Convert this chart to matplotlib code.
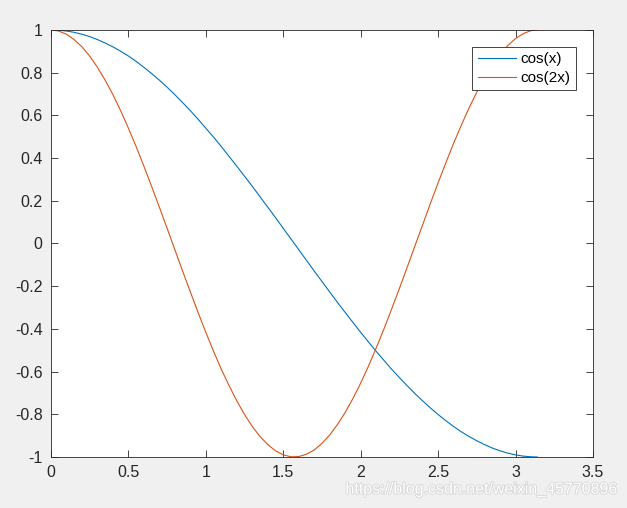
import matplotlib
matplotlib.use("Agg")
import matplotlib.pyplot as plt
import matplotlib.patheffects as pe

x = [0.00, 0.05, 0.10, 0.15, 0.20, 0.25, 0.30, 0.35, 0.40, 0.45,
     0.50, 0.55, 0.60, 0.65, 0.70, 0.75, 0.80, 0.85, 0.90, 0.95,
     1.00, 1.05, 1.10, 1.15, 1.20, 1.25, 1.30, 1.35, 1.40, 1.45,
     1.50, 1.55, 1.60, 1.65, 1.70, 1.75, 1.80, 1.85, 1.90, 1.95,
     2.00, 2.05, 2.10, 2.15, 2.20, 2.25, 2.30, 2.35, 2.40, 2.45,
     2.50, 2.55, 2.60, 2.65, 2.70, 2.75, 2.80, 2.85, 2.90, 2.95,
     3.00, 3.05, 3.10, 3.1416]

cos_x = [1.000, 0.999, 0.995, 0.989, 0.980, 0.969, 0.955, 0.939, 0.921, 0.900,
         0.878, 0.853, 0.825, 0.796, 0.765, 0.732, 0.697, 0.660, 0.622, 0.582,
         0.540, 0.498, 0.454, 0.408, 0.362, 0.315, 0.268, 0.219, 0.170, 0.121,
         0.071, 0.021, -0.029, -0.079, -0.129, -0.178, -0.227, -0.276, -0.323, -0.370,
         -0.416, -0.461, -0.505, -0.547, -0.589, -0.628, -0.666, -0.703, -0.737, -0.770,
         -0.801, -0.830, -0.857, -0.882, -0.904, -0.924, -0.942, -0.958, -0.971, -0.982,
         -0.990, -0.996, -0.999, -1.000]

cos_2x = [1.000, 0.995, 0.980, 0.955, 0.921, 0.878, 0.825, 0.765, 0.697, 0.622,
          0.540, 0.454, 0.362, 0.267, 0.170, 0.071, -0.029, -0.129, -0.227, -0.323,
          -0.416, -0.505, -0.589, -0.666, -0.737, -0.801, -0.857, -0.904, -0.942, -0.971,
          -0.990, -0.999, -0.998, -0.987, -0.967, -0.936, -0.897, -0.848, -0.791, -0.726,
          -0.654, -0.575, -0.490, -0.401, -0.307, -0.211, -0.112, -0.012, 0.087, 0.187,
          0.284, 0.378, 0.469, 0.554, 0.635, 0.709, 0.776, 0.835, 0.886, 0.927,
          0.960, 0.983, 0.997, 1.000]

labels = ["cos(x)", "cos(2x)"]
xticks = [0, 0.5, 1, 1.5, 2, 2.5, 3, 3.5]
yticks = [-1, -0.8, -0.6, -0.4, -0.2, 0, 0.2, 0.4, 0.6, 0.8, 1]

plt.rcParams["font.family"] = ["Liberation Sans", "DejaVu Sans"]
plt.rcParams["font.size"] = 11

DARK = "#262626"

fig = plt.figure(figsize=(6.27, 5.08), dpi=100, facecolor="#f0f0f0")
ax = fig.add_axes([0.0813, 0.1004, 0.8644, 0.8406])

ax.plot(x, cos_x, color="#0072BD", lw=0.8, label=labels[0])
ax.plot(x, cos_2x, color="#D95319", lw=0.8, label=labels[1])

ax.set_xlim(0, 3.5)
ax.set_ylim(-1, 1)
ax.set_xticks(xticks)
ax.set_yticks(yticks)
ax.set_xticklabels([f"{t:g}" for t in xticks])
ax.set_yticklabels([f"{t:g}" for t in yticks])

ax.tick_params(direction="in", length=5, width=0.6, colors=DARK,
               top=True, right=True, labelsize=11.5, pad=6)
for s in ax.spines.values():
    s.set_color(DARK)
    s.set_linewidth(0.6)

leg = ax.legend(loc="upper right", bbox_to_anchor=(0.9686, 0.960),
                borderaxespad=0, fancybox=False, framealpha=1,
                edgecolor=DARK, handlelength=2.5, handletextpad=0.3,
                borderpad=0.35, labelspacing=0.3, fontsize=11)
leg.get_frame().set_linewidth(0.6)

# csdn watermark
fig.text(0.986, 0.022, "https://blog.csdn.net/weixin_45770896",
         ha="right", va="bottom", fontsize=11.5, color="white",
         path_effects=[pe.withStroke(linewidth=1.2, foreground="#d6d6d6")])

fig.savefig("out.png", dpi=100, facecolor=fig.get_facecolor())
